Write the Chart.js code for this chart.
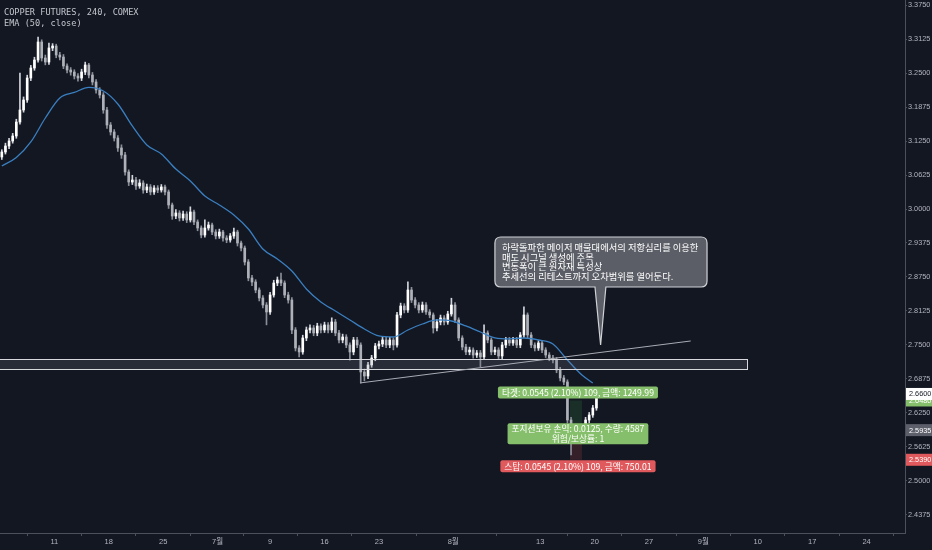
<!DOCTYPE html>
<html><head><meta charset="utf-8">
<script src="https://cdn.jsdelivr.net/npm/chart.js@4.4.0/dist/chart.umd.min.js"></script>
<style>html,body{margin:0;padding:0;background:#131722;overflow:hidden}</style>
</head><body>
<canvas id="c" width="932" height="550"></canvas>
<script>
// ---------- DATA ----------
const titleText = 'COPPER FUTURES, 240, COMEX';
const indicatorText = 'EMA (50, close)';
const xTickLabels = ['11','18','25','7월','9','16','23','8월','13','20','27','9월','10','17','24'];
const xTickBars   = [30,60,90,120,149,179,209,250,298,328,358,388,418,448,478];
const yTicks = [3.3750,3.3125,3.2500,3.1875,3.1250,3.0625,3.0000,2.9375,2.8750,2.8125,2.7500,2.6875,2.6250,2.5625,2.5000,2.4375];

const open = [3.0956,3.1048,3.1158,3.1250,3.1342,3.1599,3.1820,3.2004,3.2408,3.2592,
3.2739,3.3070,3.2776,3.2702,3.2960,3.2996,3.2831,3.2794,3.2629,3.2555,
3.2518,3.2445,3.2408,3.2518,3.2647,3.2463,3.2335,3.2188,3.2096,3.1820,
3.1544,3.1416,3.1305,3.1122,3.0993,3.0680,3.0496,3.0533,3.0423,3.0478,
3.0349,3.0405,3.0313,3.0386,3.0349,3.0405,3.0313,3.0074,2.9871,2.9927,
2.9835,2.9908,2.9798,2.9945,2.9761,2.9651,2.9522,2.9651,2.9706,2.9577,
2.9504,2.9577,2.9467,2.9430,2.9504,2.9577,2.9375,2.9283,2.9026,2.8732,
2.8658,2.8511,2.8364,2.8235,2.8107,2.8419,2.8640,2.8695,2.8640,2.8419,
2.8327,2.7776,2.7445,2.7372,2.7629,2.7776,2.7813,2.7721,2.7849,2.7776,
2.7868,2.7776,2.7923,2.7721,2.7592,2.7647,2.7500,2.7372,2.7592,2.7500,
2.7004,2.6930,2.7133,2.7261,2.7482,2.7519,2.7592,2.7500,2.7592,2.7500,
2.8052,2.8217,2.8144,2.8511,2.8327,2.8235,2.8144,2.8235,2.8107,2.8052,
2.7813,2.7923,2.7997,2.7923,2.8070,2.8235,2.7960,2.7629,2.7463,2.7372,
2.7408,2.7316,2.7353,2.7280,2.7721,2.7592,2.7372,2.7408,2.7298,2.7500,
2.7592,2.7537,2.7592,2.7500,2.7684,2.8052,2.7684,2.7500,2.7445,2.7537,
2.7408,2.7316,2.7261,2.7224,2.7041,2.6894,2.6820,2.6121,2.5754,2.5846,
2.5938,2.5791,2.6121,2.6213,2.6342];
const high = [3.109,3.121,3.130,3.139,3.165,3.250,3.206,3.246,3.264,3.279,
3.316,3.311,3.283,3.305,3.304,3.303,3.288,3.284,3.267,3.260,
3.256,3.249,3.257,3.270,3.268,3.251,3.238,3.223,3.214,3.187,
3.159,3.146,3.135,3.118,3.104,3.072,3.062,3.058,3.054,3.052,
3.046,3.045,3.043,3.043,3.045,3.044,3.035,3.011,2.999,2.997,
2.996,2.995,3.004,2.998,2.980,2.969,2.980,2.976,2.974,2.962,
2.963,2.961,2.951,2.955,2.965,2.961,2.941,2.932,2.907,2.878,
2.870,2.855,2.841,2.828,2.847,2.869,2.875,2.882,2.868,2.847,
2.837,2.782,2.749,2.768,2.783,2.787,2.786,2.790,2.789,2.792,
2.791,2.800,2.797,2.777,2.770,2.769,2.754,2.764,2.764,2.754,
2.706,2.718,2.731,2.753,2.757,2.764,2.764,2.764,2.763,2.810,
2.827,2.826,2.866,2.856,2.837,2.828,2.829,2.828,2.815,2.809,
2.797,2.805,2.804,2.812,2.836,2.828,2.800,2.767,2.751,2.746,
2.745,2.740,2.740,2.787,2.776,2.763,2.746,2.745,2.755,2.764,
2.764,2.764,2.764,2.773,2.820,2.809,2.773,2.754,2.758,2.758,
2.745,2.736,2.731,2.727,2.709,2.694,2.686,2.617,2.590,2.599,
2.598,2.617,2.626,2.639,2.664];
const low = [3.091,3.101,3.111,3.121,3.130,3.156,3.178,3.196,3.236,3.255,
3.270,3.272,3.265,3.266,3.291,3.278,3.274,3.258,3.250,3.246,
3.239,3.235,3.236,3.247,3.241,3.228,3.213,3.204,3.176,3.148,
3.136,3.125,3.106,3.093,3.062,3.043,3.045,3.036,3.038,3.029,
3.030,3.026,3.027,3.030,3.031,3.026,3.001,2.981,2.982,2.978,
2.979,2.975,2.976,2.971,2.960,2.947,2.948,2.961,2.953,2.945,
2.946,2.941,2.938,2.939,2.946,2.932,2.923,2.897,2.868,2.859,
2.846,2.831,2.818,2.787,2.806,2.838,2.859,2.859,2.837,2.827,
2.771,2.739,2.728,2.733,2.758,2.772,2.767,2.767,2.772,2.773,
2.772,2.773,2.767,2.754,2.754,2.745,2.722,2.732,2.745,2.680,
2.684,2.688,2.709,2.721,2.743,2.747,2.745,2.745,2.741,2.746,
2.800,2.809,2.810,2.828,2.818,2.809,2.810,2.806,2.800,2.772,
2.776,2.787,2.787,2.788,2.803,2.791,2.758,2.741,2.732,2.732,
2.726,2.727,2.710,2.724,2.754,2.732,2.732,2.725,2.725,2.745,
2.749,2.749,2.745,2.745,2.764,2.763,2.745,2.739,2.740,2.736,
2.727,2.721,2.717,2.699,2.684,2.677,2.606,2.548,2.570,2.580,
2.574,2.575,2.607,2.617,2.630];
const close = [3.1048,3.1158,3.1250,3.1342,3.1599,3.1820,3.2004,3.2408,3.2592,3.2739,
3.3070,3.2776,3.2702,3.2960,3.2996,3.2831,3.2794,3.2629,3.2555,3.2518,
3.2445,3.2408,3.2518,3.2647,3.2463,3.2335,3.2188,3.2096,3.1820,3.1544,
3.1416,3.1305,3.1122,3.0993,3.0680,3.0496,3.0533,3.0423,3.0478,3.0349,
3.0405,3.0313,3.0386,3.0349,3.0405,3.0313,3.0074,2.9871,2.9927,2.9835,
2.9908,2.9798,2.9945,2.9761,2.9651,2.9522,2.9651,2.9706,2.9577,2.9504,
2.9577,2.9467,2.9430,2.9504,2.9577,2.9375,2.9283,2.9026,2.8732,2.8658,
2.8511,2.8364,2.8235,2.8107,2.8419,2.8640,2.8695,2.8640,2.8419,2.8327,
2.7776,2.7445,2.7372,2.7629,2.7776,2.7813,2.7721,2.7849,2.7776,2.7868,
2.7776,2.7923,2.7721,2.7592,2.7647,2.7500,2.7372,2.7592,2.7500,2.7004,
2.6930,2.7133,2.7261,2.7482,2.7519,2.7592,2.7500,2.7592,2.7500,2.8052,
2.8217,2.8144,2.8511,2.8327,2.8235,2.8144,2.8235,2.8107,2.8052,2.7813,
2.7923,2.7997,2.7923,2.8070,2.8235,2.7960,2.7629,2.7463,2.7372,2.7408,
2.7316,2.7353,2.7280,2.7721,2.7592,2.7372,2.7408,2.7298,2.7500,2.7592,
2.7537,2.7592,2.7500,2.7684,2.8052,2.7684,2.7500,2.7445,2.7537,2.7408,
2.7316,2.7261,2.7224,2.7041,2.6894,2.6820,2.6121,2.5754,2.5846,2.5938,
2.5791,2.6121,2.6213,2.6342,2.6600];

const emaBars = [1,9,17,25,33,41,49,57,65,73,81,89,97,105,113,121,129,137,145,153,161,169,177,185,193,201,209,217,225,233,241,249,257,265,273,281,289,297,305,313,321,327];
const emaValues = [3.0791,3.0947,3.1232,3.1673,3.2041,3.2142,3.2234,3.2169,3.1930,3.1526,
3.1177,3.1011,3.0735,3.0515,3.0239,3.0074,2.9890,2.9632,2.9265,2.9081,
2.8860,2.8530,2.8291,2.8125,2.7960,2.7794,2.7666,2.7647,2.7776,2.7886,
2.7960,2.7941,2.7850,2.7739,2.7629,2.7611,2.7629,2.7592,2.7519,2.7224,
2.6949,2.6802];

// drawings (in chart units: bar index / price)
const zoneBars = [0, 412];
const zonePrices = [2.7243, 2.7059];
const trendBars = [198.6, 381.0];
const trendPrices = [2.6802, 2.7574];
const calloutBars = [273.0, 390.0];
const calloutPrices = [2.9485, 2.8566];
const calloutTip = [331.3, 2.7500];
const calloutBaseBars = [328.2, 334.2];
const calloutLines = ['하락돌파한 메이저 매물대에서의 저항심리를 이용한','매도 시그널 생성에 주목','변동폭이 큰 원자재 특성상','추세선의 리테스트까지 오차범위를 열어둔다.'];
const positionBars = [314.4, 321.0];
const entryPrice = 2.5935, targetPrice = 2.6480, stopPrice = 2.5390, lastPrice = 2.6600;
const targetText = '타겟: 0.0545 (2.10%) 109, 금액: 1249.99';
const middleText = ['포지션보유 손익: 0.0125, 수량: 4587', '위험/보상률: 1'];
const stopText = '스탑: 0.0545 (2.10%) 109, 금액: 750.01';

// ---------- CHART ----------
const candleBars = close.map((_, i) => 2 * i + 1);
const isUp = close.map((c, i) => c >= open[i]);
const BG = '#131722', AXIS = '#4c505b', TXT = '#b2b5be';
const KR = '"Noto Sans CJK KR", "Noto Sans", sans-serif';

function rr(ctx, x, y, w, h, r) {
  ctx.beginPath();
  ctx.moveTo(x + r, y); ctx.lineTo(x + w - r, y); ctx.quadraticCurveTo(x + w, y, x + w, y + r);
  ctx.lineTo(x + w, y + h - r); ctx.quadraticCurveTo(x + w, y + h, x + w - r, y + h);
  ctx.lineTo(x + r, y + h); ctx.quadraticCurveTo(x, y + h, x, y + h - r);
  ctx.lineTo(x, y + r); ctx.quadraticCurveTo(x, y, x + r, y); ctx.closePath();
}
function label(ctx, cx, cy, lines, fill, font, lh) {
  ctx.font = font;
  const w = Math.max(...lines.map(t => ctx.measureText(t).width)) + 8;
  const h = lines.length * lh + 2;
  rr(ctx, cx - w / 2, cy - h / 2, w, h, 2);
  ctx.fillStyle = fill; ctx.fill();
  ctx.fillStyle = '#ffffff'; ctx.textAlign = 'center'; ctx.textBaseline = 'middle';
  lines.forEach((t, k) => ctx.fillText(t, cx, cy - h / 2 + 1 + lh * (k + 0.5)));
}
function priceTag(ctx, area, ys, price, fill, color) {
  const y = ys.getPixelForValue(price);
  ctx.fillStyle = fill;
  ctx.fillRect(area.right + 1, y - 6, 932 - area.right, 12);
  ctx.fillStyle = color; ctx.font = '7.3px "Liberation Sans", sans-serif';
  ctx.textAlign = 'left'; ctx.textBaseline = 'middle';
  ctx.fillText(price.toFixed(4), area.right + 4, y + 0.5);
}

const overlay = {
  id: 'overlay',
  beforeDraw(chart) {
    const c = chart.ctx; c.save(); c.fillStyle = BG; c.fillRect(0, 0, chart.width, chart.height); c.restore();
  },
  beforeDatasetsDraw(chart) {
    const c = chart.ctx, xs = chart.scales.x, ys = chart.scales.y;
    const x0 = xs.getPixelForValue(positionBars[0]), x1 = xs.getPixelForValue(positionBars[1]);
    const ye = ys.getPixelForValue(entryPrice), yt = ys.getPixelForValue(targetPrice), yst = ys.getPixelForValue(stopPrice);
    c.save();
    c.fillStyle = 'rgba(76,175,80,0.16)'; c.fillRect(x0, yt, x1 - x0, ye - yt);
    c.fillStyle = 'rgba(239,83,80,0.16)'; c.fillRect(x0, ye, x1 - x0, yst - ye);
    c.restore();
  },
  afterDatasetsDraw(chart) {
    const c = chart.ctx, xs = chart.scales.x, ys = chart.scales.y;
    c.save();
    // support/resistance zone
    const zx0 = xs.getPixelForValue(zoneBars[0]) - 2, zx1 = xs.getPixelForValue(zoneBars[1]);
    const zy0 = ys.getPixelForValue(zonePrices[0]), zy1 = ys.getPixelForValue(zonePrices[1]);
    c.fillStyle = 'rgba(120,124,136,0.22)'; c.fillRect(zx0, zy0, zx1 - zx0, zy1 - zy0);
    c.strokeStyle = '#d6d8de'; c.lineWidth = 1;
    c.strokeRect(Math.round(zx0) + 0.5, Math.round(zy0) + 0.5, Math.round(zx1 - zx0), Math.round(zy1 - zy0));
    // trendline
    c.strokeStyle = '#a8abb3'; c.lineWidth = 1;
    c.beginPath();
    c.moveTo(xs.getPixelForValue(trendBars[0]), ys.getPixelForValue(trendPrices[0]));
    c.lineTo(xs.getPixelForValue(trendBars[1]), ys.getPixelForValue(trendPrices[1]));
    c.stroke();
    // callout
    const bx0 = xs.getPixelForValue(calloutBars[0]), bx1 = xs.getPixelForValue(calloutBars[1]);
    const by0 = ys.getPixelForValue(calloutPrices[0]), by1 = ys.getPixelForValue(calloutPrices[1]);
    const tx = xs.getPixelForValue(calloutTip[0]), ty = ys.getPixelForValue(calloutTip[1]);
    const px0 = xs.getPixelForValue(calloutBaseBars[0]), px1 = xs.getPixelForValue(calloutBaseBars[1]);
    const r = 6;
    c.beginPath();
    c.moveTo(bx0 + r, by0); c.lineTo(bx1 - r, by0); c.quadraticCurveTo(bx1, by0, bx1, by0 + r);
    c.lineTo(bx1, by1 - r); c.quadraticCurveTo(bx1, by1, bx1 - r, by1);
    c.lineTo(px1, by1); c.lineTo(tx, ty); c.lineTo(px0, by1);
    c.lineTo(bx0 + r, by1); c.quadraticCurveTo(bx0, by1, bx0, by1 - r);
    c.lineTo(bx0, by0 + r); c.quadraticCurveTo(bx0, by0, bx0 + r, by0); c.closePath();
    c.fillStyle = '#5b5e66'; c.fill();
    c.strokeStyle = '#d0d2d6'; c.lineWidth = 1.2; c.stroke();
    c.fillStyle = '#ffffff'; c.font = '9.3px ' + KR; c.textAlign = 'left'; c.textBaseline = 'middle';
    calloutLines.forEach((t, k) => c.fillText(t, bx0 + 7, by0 + 10.5 + k * 9.6));
    // position labels
    const cx = (xs.getPixelForValue(positionBars[0]) + xs.getPixelForValue(positionBars[1])) / 2 + 2;
    const font = '8.7px ' + KR;
    label(c, cx, ys.getPixelForValue(targetPrice) - 8, [targetText], '#86bf6b', font, 10);
    label(c, cx, ys.getPixelForValue(entryPrice) + 3.5, middleText, '#86bf6b', font, 9.5);
    label(c, cx, ys.getPixelForValue(stopPrice) + 6.5, [stopText], '#e0595c', font, 10);
    c.restore();
  },
  afterDraw(chart) {
    const c = chart.ctx, ys = chart.scales.y, area = chart.chartArea;
    c.save();
    c.fillStyle = '#c3c6cc'; c.font = '8.6px "DejaVu Sans Mono", monospace';
    c.textAlign = 'left'; c.textBaseline = 'middle';
    c.fillText(titleText, 4, 12.5);
    c.fillText(indicatorText, 4, 23.5);
    priceTag(c, area, ys, targetPrice, '#86bf6b', '#ffffff');
    priceTag(c, area, ys, lastPrice, '#ffffff', '#131722');
    priceTag(c, area, ys, entryPrice, '#5d606b', '#ffffff');
    priceTag(c, area, ys, stopPrice, '#e0595c', '#ffffff');
    c.restore();
  }
};

new Chart(document.getElementById('c'), {
  type: 'bar',
  data: {
    datasets: [
      { type: 'line', label: 'EMA', data: emaBars.map((b, i) => ({ x: b, y: emaValues[i] })),
        borderColor: '#3a7fc0', borderWidth: 1.3, pointRadius: 0, tension: 0.4, cubicInterpolationMode: 'monotone', order: 0 },
      { label: 'body', data: candleBars.map((b, i) => ({ x: b, y: [open[i], close[i]] })),
        backgroundColor: isUp.map(u => u ? '#ffffff' : '#aeb1b8'), barThickness: 2, minBarLength: 1, grouped: false, order: 1 },
      { label: 'wick', data: candleBars.map((b, i) => ({ x: b, y: [low[i], high[i]] })),
        backgroundColor: isUp.map(u => u ? '#d1d4da' : '#8a8e97'), barThickness: 1, grouped: false, order: 2 }
    ]
  },
  options: {
    responsive: false, animation: false, devicePixelRatio: 1, events: [],
    layout: { padding: 0 },
    plugins: { legend: { display: false }, tooltip: { enabled: false }, title: { display: false } },
    scales: {
      x: {
        type: 'linear', position: 'bottom', min: 0, max: 499.2, offset: false,
        afterBuildTicks: s => { s.ticks = xTickBars.map(v => ({ value: v })); },
        afterFit: s => { s.height = 17; s.paddingLeft = 0; s.paddingRight = 0; },
        grid: { drawOnChartArea: false, drawTicks: true, tickLength: 3, color: AXIS },
        border: { display: true, color: AXIS, width: 1 },
        ticks: { color: TXT, font: { size: 7.5, family: '"Liberation Sans", "Noto Sans CJK KR", sans-serif' }, padding: 1, maxRotation: 0, autoSkip: false,
          callback: v => xTickLabels[xTickBars.indexOf(v)] }
      },
      y: {
        type: 'linear', position: 'right', min: 2.4044, max: 3.3842,
        afterBuildTicks: s => { s.ticks = yTicks.map(v => ({ value: v })); },
        afterFit: s => { s.width = 27; s.paddingTop = 0; s.paddingBottom = 0; },
        grid: { drawOnChartArea: false, drawTicks: true, tickLength: 2, color: AXIS },
        border: { display: true, color: AXIS, width: 1 },
        ticks: { color: TXT, font: { size: 7.3, family: '"Liberation Sans", sans-serif' }, padding: 1, autoSkip: false,
          callback: v => Number(v).toFixed(4) }
      }
    }
  },
  plugins: [overlay]
});
</script>
</body></html>
